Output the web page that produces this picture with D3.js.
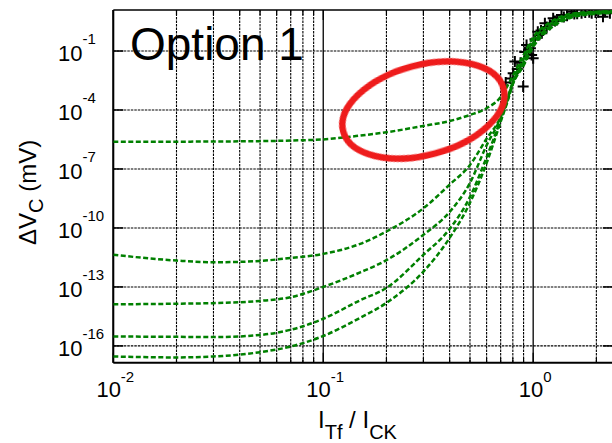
<!DOCTYPE html>
<html>
<head>
<meta charset="utf-8">
<script src="https://cdnjs.cloudflare.com/ajax/libs/d3/7.8.5/d3.min.js"></script>
<style>
  body { margin: 0; background: #fff; }
  text { font-family: "Liberation Sans", Arial, sans-serif; fill: #000; }
</style>
</head>
<body>
<div id="chart"></div>
<script>
// values (I_Tf / I_CK  vs  delta V_C in mV)
var xValues = [0.01, 0.02, 0.03, 0.05, 0.07, 0.1, 0.15, 0.2, 0.3, 0.4, 0.5, 0.6, 0.7, 0.75, 0.8, 0.9, 1.0, 1.2, 1.5, 2.0, 2.4];

var curveA = [2.45e-6, 2.45e-6, 2.5e-6, 2.6e-6, 2.8e-6, 3.2e-6, 5.0e-6, 7.4e-6, 1.55e-5, 2.75e-5, 5.6e-5, 1.23e-4, 4.6e-4, 1.5e-3, 5.4e-3, 0.063, 0.50, 2.8, 7.6, 10, 10.5];
var curveB = [4.3e-12, 2.2e-12, 1.8e-12, 2.1e-12, 3.0e-12, 4.8e-12, 1.55e-11, 6.6e-11, 1.0e-9, 1.6e-8, 1.6e-7, 3.5e-6, 4.5e-5, 3.2e-4, 2.8e-3, 0.040, 0.355, 2.24, 6.6, 9.5, 10];
var curveC = [1.3e-14, 1.4e-14, 1.5e-14, 1.95e-14, 3.0e-14, 1.0e-13, 5.5e-13, 2.3e-12, 4.5e-11, 6.5e-10, 1.95e-8, 1.6e-6, 3.9e-5, 2.8e-4, 2.4e-3, 0.028, 0.25, 1.78, 5.9, 8.9, 9.5];
var curveD = [3.0e-16, 2.9e-16, 2.8e-16, 3.6e-16, 6.6e-16, 2.4e-15, 2.1e-14, 8.9e-14, 4.3e-12, 8.9e-11, 3.8e-9, 4.0e-7, 3.2e-5, 2.5e-4, 2.2e-3, 0.022, 0.20, 1.58, 5.4, 8.5, 9.1];
var curveE = [2.9e-17, 2.6e-17, 2.9e-17, 4.8e-17, 9.3e-17, 3.2e-16, 2.7e-15, 1.55e-14, 6.0e-13, 3.1e-11, 1.9e-9, 2.0e-7, 2.5e-5, 2.2e-4, 2.0e-3, 0.018, 0.16, 1.32, 4.8, 7.9, 8.7];

// measured points (+)
var markerX = [0.74, 0.78, 0.803, 0.818, 0.84, 0.87, 0.896, 0.912, 0.93, 0.95, 0.97, 0.983, 1.0, 1.02, 1.052, 1.06, 1.09, 1.1, 1.137, 1.16, 1.2, 1.245, 1.27, 1.3, 1.364, 1.40, 1.45, 1.523, 1.57, 1.62, 1.70, 1.77, 1.85, 1.90, 1.98, 2.04, 2.15, 2.2, 2.32, 2.4];
var markerY = [2.5e-3, 4.0e-3, 7.4e-3, 0.029, 0.012, 0.025, 1.55e-3, 0.089, 0.20, 0.12, 0.14, 0.063, 0.043, 0.40, 0.95, 0.65, 1.1, 0.8, 2.6, 1.66, 2.2, 4.6, 3.4, 3.8, 6.8, 5.4, 6.3, 10, 7.6, 7.9, 8.3, 9.1, 9.3, 8.3, 9.0, 9.5, 5.5, 9.8, 8.3, 9.9];

var xTickExps = [-2, -1, 0];
var yTickExps = [-1, -4, -7, -10, -13, -16];

var margin = {top: 10, right: -1, bottom: 80.3, left: 113.3},
    W = 612, H = 443,
    width = W - margin.left - margin.right,
    height = H - margin.top - margin.bottom;

var svg = d3.select("#chart").append("svg")
  .attr("width", W).attr("height", H);

svg.append("defs").append("clipPath").attr("id", "plotclip")
  .append("rect").attr("width", width).attr("height", height);

var soft = svg.select("defs").append("filter").attr("id", "soft");
soft.append("feGaussianBlur").attr("stdDeviation", 0.7);

var g = svg.append("g")
  .attr("transform", "translate(" + margin.left + "," + margin.top + ")");

var x = d3.scaleLog().domain([0.01, 2.4]).range([0, width]);
var y = d3.scaleLog().domain([1.4e-17, 12.2]).range([height, 0]);

var xMinor = x.ticks();
var xMajor = xTickExps.map(function(e) { return Math.pow(10, e); });
var yMajor = yTickExps.map(function(e) { return Math.pow(10, e); });
function isMajor(d) { return xMajor.some(m => Math.abs(m - d) < 1e-9); }

// grid
g.append("g").selectAll("line").data(xMinor).join("line")
  .attr("x1", d => x(d)).attr("x2", d => x(d))
  .attr("y1", 0).attr("y2", height)
  .attr("stroke", "#000")
  .attr("stroke-width", d => isMajor(d) ? 1.3 : 1.1)
  .attr("stroke-dasharray", d => isMajor(d) ? null : "2.5,1");

g.append("g").selectAll("line").data(yMajor).join("line")
  .attr("x1", 0).attr("x2", width)
  .attr("y1", d => y(d)).attr("y2", d => y(d))
  .attr("stroke", "#000")
  .attr("stroke-width", 1.1)
  .attr("stroke-dasharray", "2.5,1");

// ticks, all pointing inwards
var ticks = g.append("g").attr("stroke", "#000");
ticks.selectAll(".yl").data(yMajor).join("line").attr("class", "yl")
  .attr("x1", 0).attr("x2", 10).attr("y1", d => y(d)).attr("y2", d => y(d)).attr("stroke-width", 1.5);
ticks.selectAll(".yr").data(yMajor).join("line").attr("class", "yr")
  .attr("x1", width - 10).attr("x2", width).attr("y1", d => y(d)).attr("y2", d => y(d)).attr("stroke-width", 1.5);
ticks.selectAll(".xb").data(xMinor).join("line").attr("class", "xb")
  .attr("x1", d => x(d)).attr("x2", d => x(d))
  .attr("y1", height).attr("y2", d => height - (isMajor(d) ? 10 : 5)).attr("stroke-width", 1.2);
ticks.selectAll(".xt").data(xMinor).join("line").attr("class", "xt")
  .attr("x1", d => x(d)).attr("x2", d => x(d))
  .attr("y1", 0).attr("y2", d => (isMajor(d) ? 10 : 5)).attr("stroke-width", 1.2);

// frame
g.append("line").attr("x1", 0).attr("x2", 0).attr("y1", 0).attr("y2", height)
  .attr("stroke", "#000").attr("stroke-width", 2);
g.append("line").attr("x1", 0).attr("x2", width).attr("y1", height).attr("y2", height)
  .attr("stroke", "#000").attr("stroke-width", 2);
g.append("line").attr("x1", 0).attr("x2", width).attr("y1", 0).attr("y2", 0)
  .attr("stroke", "#000").attr("stroke-width", 1.5);

// tick labels
var yl = g.append("g").selectAll("text").data(yTickExps).join("text")
  .attr("x", 58 - margin.left)
  .attr("y", d => y(Math.pow(10, d)) + 10)
  .style("font-size", "22px");
yl.append("tspan").text("10");
yl.append("tspan").text(d => "-" + Math.abs(d)).attr("dy", -17).style("font-size", "15px");

var xl = g.append("g").selectAll("text").data(xTickExps).join("text")
  .attr("x", d => x(Math.pow(10, d)) + 2)
  .attr("y", height + 34)
  .attr("text-anchor", "middle")
  .style("font-size", "22px");
xl.append("tspan").text("10");
xl.append("tspan").text(d => d < 0 ? "-" + Math.abs(d) : "" + d).attr("dy", -15).style("font-size", "15px");

// axis titles
var xt = svg.append("text").attr("x", 318).attr("y", 428).style("font-size", "24px");
xt.append("tspan").text("I");
xt.append("tspan").text("Tf").attr("dy", 11).style("font-size", "20px");
xt.append("tspan").text(" / ").attr("dy", -11);
xt.append("tspan").text("I");
xt.append("tspan").text("CK").attr("dy", 11).style("font-size", "20px");

var yt = svg.append("text")
  .attr("transform", "translate(36,245) rotate(-90)")
  .style("font-size", "24px");
yt.append("tspan").text("\u0394V");
yt.append("tspan").text("C").attr("dy", 7).style("font-size", "20px");
yt.append("tspan").text(" (mV)").attr("dy", -7);

// data
var plot = g.append("g").attr("clip-path", "url(#plotclip)");

var markers = markerX.map((d, i) => [d, markerY[i]]);
plot.selectAll(".plus").data(markers).join("path").attr("class", "plus")
  .attr("d", "M-5.5,0H5.5M0,-5.5V5.5")
  .attr("transform", d => "translate(" + x(d[0]) + "," + y(d[1]) + ")")
  .attr("stroke", "#000").attr("stroke-width", 2).attr("fill", "none");

var line = d3.line()
  .x(d => x(d[0]))
  .y(d => y(d[1]))
  .curve(d3.curveMonotoneX);

var series = [curveA, curveB, curveC, curveD, curveE];
plot.selectAll(".curve").data(series).join("path").attr("class", "curve")
  .attr("d", s => line(xValues.map((v, i) => [v, s[i]])))
  .attr("fill", "none")
  .attr("stroke", "#008000")
  .attr("stroke-width", 2.5)
  .attr("stroke-dasharray", "5,2.5");

// annotation
svg.append("text").attr("x", 130).attr("y", 60).style("font-size", "46px").text("Option 1");

g.append("ellipse")
  .attr("cx", x(0.3)).attr("cy", y(1e-4))
  .attr("rx", 83).attr("ry", 45)
  .attr("transform", "rotate(-15," + x(0.3) + "," + y(1e-4) + ")")
  .attr("fill", "none")
  .attr("stroke", "#ee1b1b")
  .attr("stroke-width", 6.5)
  .attr("filter", "url(#soft)");
</script>
</body>
</html>
